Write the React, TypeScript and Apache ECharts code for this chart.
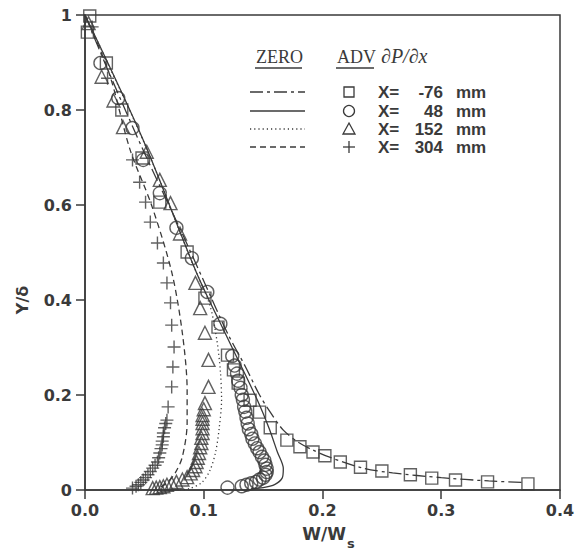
import React, { useEffect, useRef } from "react";
import * as echarts from "echarts";

const xTickValues = [0, 0.1, 0.2, 0.3, 0.4];
const yTickValues = [0, 0.2, 0.4, 0.6, 0.8, 1];
const stationLabels = ["-76", "48", "152", "304"];
const headerLabels = ["ZERO", "ADV", "∂P/∂x"];

// X = -76 mm (squares)
const squarePts = [
  [0.004, 0.998], [0.002, 0.964], [0.018, 0.899], [0.031, 0.8], [0.048, 0.699],
  [0.063, 0.606], [0.086, 0.501], [0.101, 0.404], [0.112, 0.343], [0.12, 0.284],
  [0.125, 0.253], [0.129, 0.225], [0.139, 0.189], [0.147, 0.164], [0.156, 0.131],
  [0.17, 0.105], [0.181, 0.091], [0.192, 0.08], [0.202, 0.072], [0.215, 0.059],
  [0.232, 0.048], [0.25, 0.04], [0.274, 0.032], [0.292, 0.025], [0.312, 0.021],
  [0.339, 0.017], [0.373, 0.013],
];
// X = 48 mm (circles)
const circlePts = [
  [0.013, 0.899], [0.028, 0.825], [0.04, 0.762], [0.049, 0.695], [0.063, 0.625],
  [0.077, 0.552], [0.09, 0.488], [0.103, 0.417], [0.114, 0.35], [0.124, 0.282],
  [0.126, 0.262], [0.128, 0.245], [0.129, 0.23], [0.131, 0.215], [0.132, 0.2],
  [0.133, 0.19], [0.134, 0.175], [0.135, 0.165], [0.136, 0.152], [0.137, 0.14],
  [0.138, 0.128], [0.14, 0.118], [0.141, 0.108], [0.143, 0.098], [0.145, 0.088],
  [0.147, 0.08], [0.149, 0.07], [0.151, 0.062], [0.152, 0.053], [0.153, 0.045],
  [0.153, 0.038], [0.152, 0.032], [0.15, 0.026], [0.147, 0.022], [0.144, 0.017],
  [0.14, 0.014], [0.136, 0.011], [0.132, 0.008], [0.12, 0.005],
];
// X = 152 mm (triangles)
const trianglePts = [
  [0.003, 0.983], [0.014, 0.87], [0.024, 0.82], [0.032, 0.764], [0.052, 0.712],
  [0.063, 0.653], [0.072, 0.604], [0.08, 0.54], [0.093, 0.436], [0.097, 0.383],
  [0.101, 0.331], [0.104, 0.274], [0.104, 0.217], [0.101, 0.183], [0.1, 0.17],
  [0.099, 0.158], [0.099, 0.15], [0.099, 0.141], [0.099, 0.13], [0.099, 0.12],
  [0.098, 0.11], [0.098, 0.099], [0.097, 0.09], [0.096, 0.078], [0.095, 0.068],
  [0.094, 0.059], [0.093, 0.05], [0.091, 0.042], [0.089, 0.035], [0.086, 0.027],
  [0.082, 0.022], [0.077, 0.017], [0.073, 0.014], [0.069, 0.011], [0.066, 0.008],
  [0.063, 0.006], [0.06, 0.005], [0.057, 0.004],
];
// X = 304 mm (crosses)
const crossPts = [
  [0.006, 0.975], [0.019, 0.867], [0.04, 0.695], [0.046, 0.648], [0.051, 0.606],
  [0.055, 0.564], [0.061, 0.52], [0.066, 0.478], [0.069, 0.436], [0.072, 0.394],
  [0.073, 0.347], [0.075, 0.301], [0.074, 0.259], [0.073, 0.217], [0.07, 0.175],
  [0.069, 0.147], [0.068, 0.14], [0.067, 0.131], [0.066, 0.12], [0.066, 0.112],
  [0.065, 0.103], [0.065, 0.095], [0.064, 0.087], [0.063, 0.078], [0.062, 0.068],
  [0.061, 0.059], [0.059, 0.052], [0.057, 0.046], [0.055, 0.039], [0.053, 0.032],
  [0.051, 0.026], [0.049, 0.021], [0.047, 0.016], [0.045, 0.011], [0.043, 0.008],
  [0.04, 0.004],
];

// ZERO computations (lines)
const dashDotLine = [
  [0.0, 1.0], [0.02, 0.88], [0.05, 0.71], [0.08, 0.55], [0.1, 0.44], [0.12, 0.33],
  [0.135, 0.26], [0.147, 0.2], [0.156, 0.164], [0.167, 0.126], [0.18, 0.1],
  [0.192, 0.084], [0.206, 0.069], [0.234, 0.046], [0.259, 0.036], [0.3, 0.026],
  [0.34, 0.019], [0.37, 0.016],
];
const solidLine = [
  [0.0, 1.0], [0.049, 0.737], [0.094, 0.457], [0.12, 0.32], [0.145, 0.19],
  [0.155, 0.13], [0.162, 0.08], [0.167, 0.045], [0.166, 0.025], [0.16, 0.012],
  [0.15, 0.005], [0.14, 0.003],
];
const dottedLine = [
  [0.0, 1.0], [0.05, 0.73], [0.09, 0.48], [0.105, 0.39], [0.111, 0.316],
  [0.114, 0.25], [0.115, 0.19], [0.113, 0.13], [0.11, 0.08], [0.105, 0.04],
  [0.098, 0.015], [0.088, 0.003], [0.08, 0.0],
];
const dashedLine = [
  [0.0, 1.0], [0.02, 0.88], [0.038, 0.716], [0.056, 0.6], [0.073, 0.459],
  [0.082, 0.33], [0.086, 0.21], [0.086, 0.141], [0.082, 0.07], [0.076, 0.036],
  [0.069, 0.015], [0.061, 0.002],
];

const INK = "#3a3a3a";
const SANS = "DejaVu Sans, Liberation Sans, Arial, sans-serif";
const LEG_SANS = "Liberation Sans, Arial, sans-serif";
const SERIF = "Liberation Serif, DejaVu Serif, serif";

const DASHDOT = [13, 4, 3, 4];
const DASHED = [6, 4];
const DOTTED = [1.2, 3];

export default function App() {
  const ref = useRef<HTMLDivElement>(null);
  useEffect(() => {
    if (!ref.current) return;
    const chart = echarts.init(ref.current, null, { renderer: "svg" });

    const lineSeries = (data: number[][], type: any) => ({
      type: "line",
      data,
      showSymbol: false,
      smooth: 0.3,
      silent: true,
      z: 2,
      lineStyle: { color: INK, width: 1.3, type },
    });
    const markerSeries = (data: number[][], symbol: string, size: number) => ({
      type: "scatter",
      data,
      symbol,
      symbolSize: size,
      z: 3,
      itemStyle: { color: "rgba(0,0,0,0)", borderColor: INK, borderWidth: 1.4 },
    });

    const legendRows = [
      { y: 92, dash: DASHDOT, symbol: "square" },
      { y: 111, dash: null, symbol: "circle" },
      { y: 129, dash: DOTTED, symbol: "triangle" },
      { y: 147, dash: DASHED, symbol: "cross" },
    ];
    const graphics: any[] = [];
    graphics.push({
      type: "text", x: 256, y: 57,
      style: { text: headerLabels[0], font: `18px ${SERIF}`, fill: INK, textVerticalAlign: "middle" },
    });
    graphics.push({ type: "line", shape: { x1: 255, y1: 68, x2: 302, y2: 68 }, style: { stroke: INK, lineWidth: 1.6 } });
    graphics.push({
      type: "text", x: 337, y: 57,
      style: { text: headerLabels[1], font: `18px ${SERIF}`, fill: INK, textVerticalAlign: "middle" },
    });
    graphics.push({ type: "line", shape: { x1: 336, y1: 68, x2: 374, y2: 68 }, style: { stroke: INK, lineWidth: 1.6 } });
    graphics.push({
      type: "text", x: 381, y: 56,
      style: { text: headerLabels[2], font: `italic 20px ${SERIF}`, fill: INK, textVerticalAlign: "middle" },
    });
    legendRows.forEach((r, i) => {
      graphics.push({
        type: "line",
        shape: { x1: 250, y1: r.y, x2: 305, y2: r.y },
        style: { stroke: INK, lineWidth: 1.3, lineDash: r.dash || undefined },
      });
      const cx = 349, cy = r.y;
      if (r.symbol === "square") {
        graphics.push({ type: "rect", shape: { x: cx - 5, y: cy - 5, width: 10, height: 10 }, style: { fill: "none", stroke: INK, lineWidth: 1.3 } });
      } else if (r.symbol === "circle") {
        graphics.push({ type: "circle", shape: { cx, cy, r: 5.5 }, style: { fill: "none", stroke: INK, lineWidth: 1.3 } });
      } else if (r.symbol === "triangle") {
        graphics.push({ type: "polygon", shape: { points: [[cx, cy - 6], [cx + 6, cy + 5], [cx - 6, cy + 5]] }, style: { fill: "none", stroke: INK, lineWidth: 1.3 } });
      } else {
        graphics.push({ type: "line", shape: { x1: cx - 6, y1: cy, x2: cx + 6, y2: cy }, style: { stroke: INK, lineWidth: 1.3 } });
        graphics.push({ type: "line", shape: { x1: cx, y1: cy - 6, x2: cx, y2: cy + 6 }, style: { stroke: INK, lineWidth: 1.3 } });
      }
      graphics.push({
        type: "text", x: 378, y: r.y,
        style: { text: "X=", font: `bold 17px ${LEG_SANS}`, fill: INK, textVerticalAlign: "middle" },
      });
      graphics.push({
        type: "text", x: 443, y: r.y,
        style: { text: stationLabels[i], font: `bold 17px ${LEG_SANS}`, fill: INK, textAlign: "right", textVerticalAlign: "middle" },
      });
      graphics.push({
        type: "text", x: 456, y: r.y,
        style: { text: "mm", font: `bold 17px ${LEG_SANS}`, fill: INK, textVerticalAlign: "middle" },
      });
    });
    graphics.push({
      type: "text", x: 22, y: 300, rotation: Math.PI / 2,
      style: { text: "Y/δ", font: `bold 16px ${SANS}`, fill: INK, textAlign: "center", textVerticalAlign: "middle" },
    });
    graphics.push({
      type: "text", x: 346, y: 534,
      style: { text: "W/W", font: `bold 17px ${SANS}`, fill: INK, textAlign: "right", textVerticalAlign: "middle" },
    });
    graphics.push({
      type: "text", x: 347, y: 543,
      style: { text: "s", font: `bold 13px ${SANS}`, fill: INK, textVerticalAlign: "middle" },
    });

    chart.setOption({
      animation: false,
      backgroundColor: "#ffffff",
      grid: {
        left: 85, top: 15, width: 475, height: 475,
        show: true, borderColor: INK, borderWidth: 1.5, backgroundColor: "transparent",
      },
      xAxis: {
        type: "value",
        min: xTickValues[0], max: xTickValues[xTickValues.length - 1], interval: 0.1,
        axisLine: { show: true, onZero: false, lineStyle: { color: INK, width: 1.5 } },
        axisTick: { show: true, inside: false, length: 9, lineStyle: { color: INK, width: 1.5 } },
        splitLine: { show: false },
        axisLabel: {
          color: INK, fontFamily: SANS, fontWeight: "bold", fontSize: 16, margin: 12,
          formatter: (v: number) => v.toFixed(1),
        },
      },
      yAxis: {
        type: "value",
        min: yTickValues[0], max: yTickValues[yTickValues.length - 1], interval: 0.2,
        axisLine: { show: true, onZero: false, lineStyle: { color: INK, width: 1.5 } },
        axisTick: { show: true, inside: false, length: 9, lineStyle: { color: INK, width: 1.5 } },
        splitLine: { show: false },
        axisLabel: {
          color: INK, fontFamily: SANS, fontWeight: "bold", fontSize: 16, margin: 13,
          formatter: (v: number) => (v === 0 ? "0" : v === 1 ? "1" : v.toFixed(1)),
        },
      },
      graphic: graphics,
      series: [
        lineSeries(dashDotLine, DASHDOT),
        lineSeries(solidLine, "solid"),
        lineSeries(dottedLine, DOTTED),
        lineSeries(dashedLine, DASHED),
        markerSeries(squarePts, "rect", 12),
        markerSeries(circlePts, "circle", 13),
        markerSeries(trianglePts, "triangle", 13),
        markerSeries(crossPts, "path://M0,6 L12,6 M6,0 L6,12", 13),
      ],
    });
    return () => chart.dispose();
  }, []);
  return (
    <div
      ref={ref}
      style={{ position: "fixed", left: 0, top: 0, width: 579, height: 554, background: "#fff" }}
    />
  );
}
